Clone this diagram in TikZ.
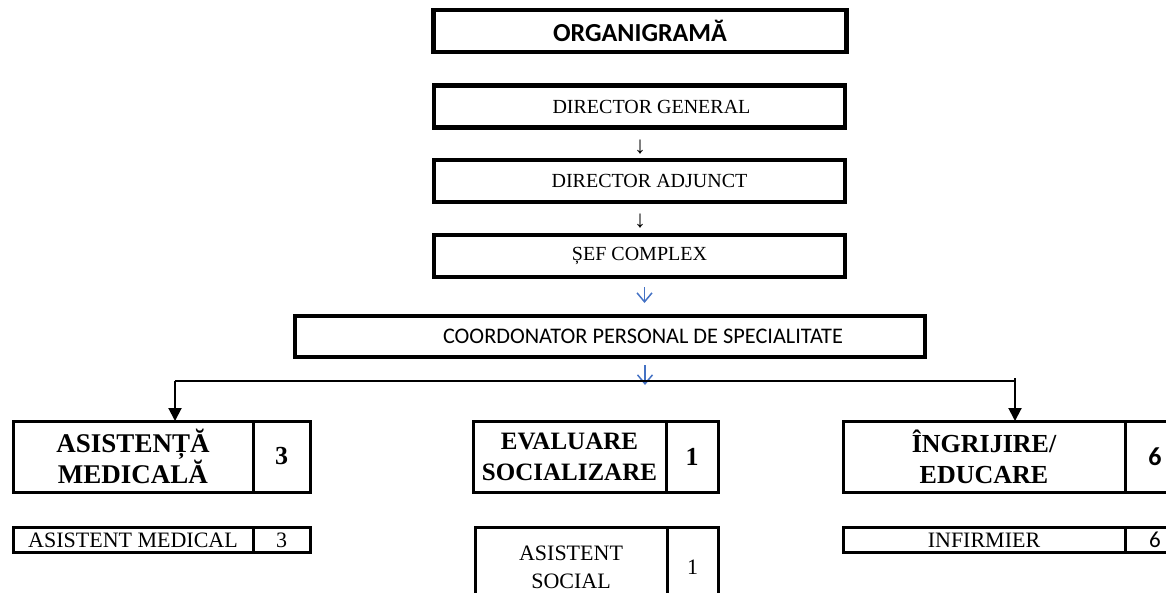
\documentclass[tikz,border=0pt]{standalone}
\usepackage{fontspec}
\setmainfont{Liberation Serif}
\newfontfamily\calibri{Carlito}
\usepackage{tikz}
\usetikzlibrary{positioning,arrows.meta}
\definecolor{arrowblue}{RGB}{68,114,196}

\begin{document}
\begin{tikzpicture}[x=1pt, y=-1pt,
  every node/.style={inner sep=0pt, outer sep=0pt},
  headbox/.style={draw, line width=4.5pt, minimum width=411pt, minimum height=42pt,
    font=\fontsize{20}{22}\selectfont},
  catbox/.style={draw, line width=3pt, align=center, minimum height=71pt,
    font=\bfseries\fontsize{26}{31}\selectfont},
  subbox/.style={draw, line width=3pt, align=center,
    font=\fontsize{22}{28}\selectfont},
  bluearrow/.style={arrowblue, line width=1.5pt, -{Straight Barb[length=9pt,width=15pt]}},
  blkarrow/.style={line width=2pt, -{Triangle[length=13pt,width=13pt]}}]
\useasboundingbox (0,0) rectangle (1166,592);
%
\node[headbox, minimum width=413pt, font=\calibri\bfseries\fontsize{26}{28}\selectfont] (title) at (640,31) {ORGANIGRAMĂ};
%
\node[headbox] (dg) at (639.5,106.5) {\hspace*{24pt}DIRECTOR GENERAL};
\node[font=\fontsize{24}{26}\selectfont] (ar1) at (640,147) {↓};
\node[headbox] (da) at (639.5,181) {\hspace*{20pt}DIRECTOR ADJUNCT};
\node[font=\fontsize{24}{26}\selectfont] (ar2) at (640,221) {↓};
\node[headbox] (sef) at (639.5,256) {ȘEF COMPLEX};
%
\node[headbox, minimum width=630pt, minimum height=41pt, font=\calibri\fontsize{22.3}{24}\selectfont] (coord) at (610,336.5) {\hspace*{66pt}COORDONATOR PERSONAL DE SPECIALITATE};
\draw[bluearrow] ([xshift=5pt,yshift=-10pt]sef.south) -- ([xshift=5pt,yshift=13pt]sef.south |- coord.north);
\draw[bluearrow] ([xshift=35pt,yshift=-8pt]coord.south) -- ([xshift=35pt,yshift=-28pt]coord.south);
%
\node[catbox, minimum width=240pt, font=\bfseries\fontsize{27}{31}\selectfont] (am) at (133,456.5) {ASISTENȚĂ\\MEDICALĂ};
\node[catbox, minimum width=57pt, right=0pt of am] (amn) {3};
\node[catbox, minimum width=193pt, font=\bfseries\fontsize{25}{31}\selectfont] (es) at (569.5,456.5) {EVALUARE\\SOCIALIZARE};
\node[catbox, minimum width=52pt, right=0pt of es] (esn) {1};
\node[catbox, minimum width=282pt] (ie) at (984,456.5) {ÎNGRIJIRE/\\EDUCARE};
\node[catbox, minimum width=60pt, right=0pt of ie, font=\calibri\bfseries\fontsize{26}{27}\selectfont] (ien) {6};
%
\node[subbox, minimum width=240pt, minimum height=25pt] (ams) at (133,540) {ASISTENT MEDICAL};
\node[subbox, minimum width=57pt, minimum height=25pt, right=0pt of ams] (amsn) {3};
\node[subbox, minimum width=192pt, minimum height=80pt] (ess) at (571,567.5) {ASISTENT\\SOCIAL};
\node[subbox, minimum width=51pt, minimum height=80pt, right=0pt of ess] (essn) {1};
\node[subbox, minimum width=282pt, minimum height=25pt] (ies) at (984,540) {INFIRMIER};
\node[subbox, minimum width=60pt, minimum height=25pt, right=0pt of ies, font=\calibri\fontsize{23}{24}\selectfont] (iesn) {6};
%
\coordinate (busl) at (175,381);
\coordinate (busr) at (1015,381);
\draw[line width=2pt] (busl) -- (busr);
\draw[blkarrow] (busl) -- (busl |- am.north);
\draw[blkarrow] ([yshift=3pt]busr) -- (busr |- ie.north);
\end{tikzpicture}
\end{document}
